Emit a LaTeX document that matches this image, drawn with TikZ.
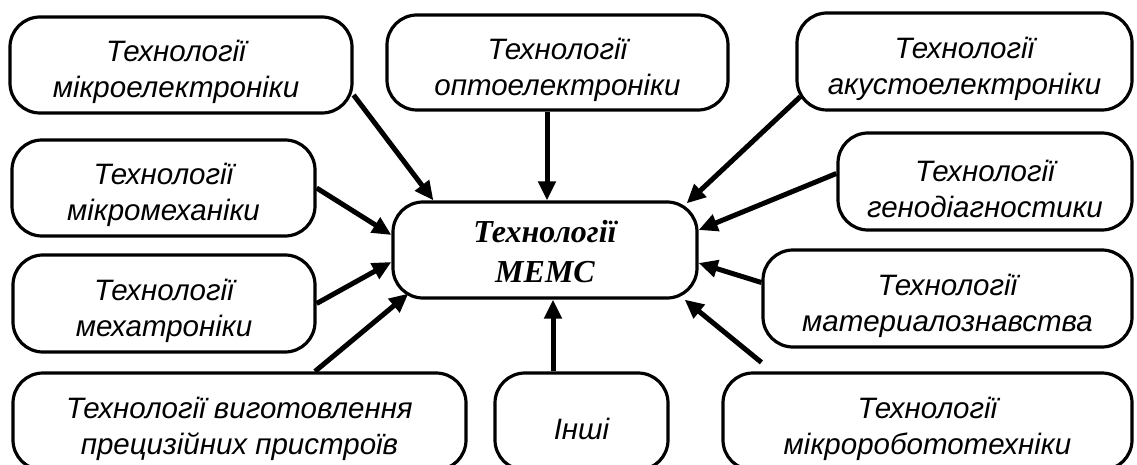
\documentclass[tikz,border=0pt]{standalone}
\usepackage{fontspec}
\setmainfont{Liberation Sans}
\newfontfamily\timesf{Liberation Serif}
\usetikzlibrary{arrows.meta}
\begin{document}
\begin{tikzpicture}[x=1pt,y=-1pt,
  box/.style={draw, line width=3.2pt, rounded corners=30pt, inner sep=0pt},
  txt/.style={align=center, inner sep=0pt, font=\fontsize{29.5}{36}\selectfont\itshape},
  maintxt/.style={align=center, inner sep=0pt, font=\timesf\bfseries\itshape\fontsize{32}{40}\selectfont},
  arr/.style={line width=5pt, -{Triangle[length=19pt,width=17pt]}}]
\useasboundingbox (0,0) rectangle (1137,465);
\clip (0,0) rectangle (1137,465);

\node[box, minimum width=304pt, minimum height=96pt] (c) at (545,250) {};
\node[maintxt] (tc) at ([yshift=-2pt]c.center) {Технології\\МЕМС};

\node[box, minimum width=342pt, minimum height=96pt] (b1) at (181,65) {};
\node[box, minimum width=303pt, minimum height=96pt] (b2) at (163.5,188) {};
\node[box, minimum width=302pt, minimum height=97pt] (b3) at (164,303.5) {};
\node[box, minimum width=453pt, minimum height=97pt] (b4) at (239.5,421.5) {};
\node[box, minimum width=341pt, minimum height=95pt] (b5) at (557.5,62.5) {};
\node[box, minimum width=335pt, minimum height=97pt] (b6) at (964.5,61.5) {};
\node[box, minimum width=294pt, minimum height=97pt] (b7) at (985,181.5) {};
\node[box, minimum width=369pt, minimum height=97pt] (b8) at (947.5,298.5) {};
\node[box, minimum width=409pt, minimum height=97pt] (b9) at (927.5,421.5) {};
\node[box, minimum width=173pt, minimum height=97pt] (b10) at (581.5,421.5) {};

\node[txt] (t1) at ([xshift=-5pt,yshift=-7pt]b1.center) {Технології\\мікроелектроніки};
\node[txt] (t2) at ([yshift=-7pt]b2.center) {Технології\\мікромеханіки};
\node[txt] (t3) at ([yshift=-7pt]b3.center) {Технології\\мехатроніки};
\node[txt] (t4) at ([yshift=-7pt]b4.center) {Технології виготовлення\\прецизійних пристроїв};
\node[txt] (t5) at ([yshift=-7pt]b5.center) {Технології\\оптоелектроніки};
\node[txt] (t6) at ([yshift=-7pt]b6.center) {Технології\\акустоелектроніки};
\node[txt] (t7) at ([yshift=-7pt]b7.center) {Технології\\генодіагностики};
\node[txt] (t8) at ([yshift=-7pt]b8.center) {Технології\\материалознавства};
\node[txt] (t9) at ([yshift=-7pt]b9.center) {Технології\\мікроробототехніки};
\node[txt] (t10) at ([yshift=-7pt]b10.center) {Інші};

\coordinate (r9) at ([xshift=40pt,yshift=9pt]b9.north west);

\draw[arr] ([yshift=-30pt]b1.east) -- ([xshift=42pt]c.north west);
\draw[arr] (b2.east) -- ([yshift=15pt]c.west);
\draw[arr] (b3.east) -- ([yshift=-12pt]c.west);
\draw[arr] ([xshift=75.5pt]b4.north) -- ([xshift=17pt,yshift=6pt]c.south west);
\draw[arr] ([xshift=2pt]c.north |- b5.south) -- ([xshift=2pt]c.north);
\draw[arr] ([xshift=5pt,yshift=15pt]b6.south west) -- ([xshift=-12pt,yshift=-3pt]c.north east);
\draw[arr] ([yshift=8pt]b7.west) -- ([yshift=20pt]c.east);
\draw[arr] ([yshift=16pt]b8.west) -- ([yshift=-13pt]c.east);
\draw[arr] (r9) -- ([xshift=-14pt]c.south east);
\draw[arr] ([xshift=8pt]c.south |- b10.north) -- ([xshift=8pt]c.south);
\end{tikzpicture}
\end{document}
